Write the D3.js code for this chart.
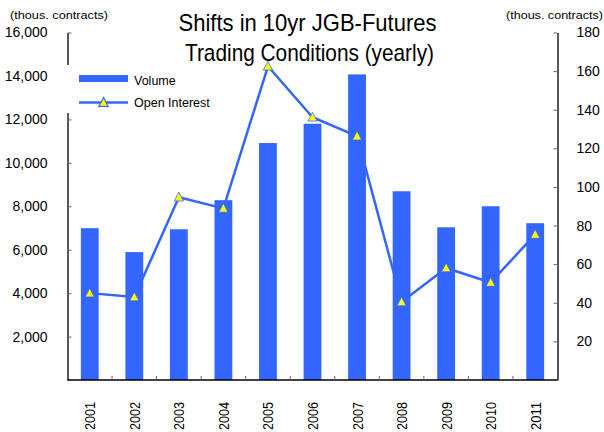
<!DOCTYPE html>
<html>
<head>
<meta charset="utf-8">
<script src="https://cdn.jsdelivr.net/npm/d3@7"></script>
<style>
  html, body { margin: 0; padding: 0; background: #fff; }
  svg { display: block; font-family: "Liberation Sans", Arial, sans-serif; }
</style>
</head>
<body>
<svg id="chart" width="604" height="432"></svg>
<script>
const years = ["2001","2002","2003","2004","2005","2006","2007","2008","2009","2010","2011"];
const volume = [6990, 5890, 6940, 8280, 10910, 11800, 14070, 8690, 7030, 8000, 7220];
const openInterest = [45.0, 43.0, 94.7, 88.9, 162.5, 136.1, 126.3, 40.4, 58.0, 50.5, 75.4];
const leftTicks = [2000, 4000, 6000, 8000, 10000, 12000, 14000, 16000];
const rightTicks = [20, 40, 60, 80, 100, 120, 140, 160, 180];
const titleLines = ["Shifts in 10yr JGB-Futures", "Trading Conditions (yearly)"];
const unitLabel = "(thous. contracts)";
const legendLabels = ["Volume", "Open Interest"];

const BLUE = "#3366FF";
const YELLOW = "#FFFF00";

const svg = d3.select("#chart");
const L = 67.5, R = 557.5, T = 32.5, B = 380;

const x = d3.scaleBand().domain(years).range([L, R]).paddingInner(0.6).paddingOuter(0.3);
const yL = d3.scaleLinear().domain([0, 16000]).range([B, T]);
const yR = d3.scaleLinear().domain([0, 180]).range([B, T]);

// bars
svg.append("g").selectAll("rect").data(years).join("rect")
  .attr("x", d => x(d))
  .attr("width", x.bandwidth())
  .attr("y", (d, i) => yL(volume[i]))
  .attr("height", (d, i) => B - yL(volume[i]))
  .attr("fill", BLUE);

// line
const line = d3.line().x((d, i) => x(years[i]) + x.bandwidth() / 2).y(d => yR(d));
svg.append("path").datum(openInterest)
  .attr("d", line).attr("fill", "none")
  .attr("stroke", BLUE).attr("stroke-width", 2.5).attr("stroke-linejoin", "round");

const tri = "M0,-5L4.6,3.8L-4.6,3.8Z";
svg.append("g").selectAll("path").data(openInterest).join("path")
  .attr("d", tri)
  .attr("transform", (d, i) => `translate(${x(years[i]) + x.bandwidth() / 2},${yR(d)})`)
  .attr("fill", YELLOW).attr("stroke", BLUE).attr("stroke-width", 0.8);

// left axis
const gL = svg.append("g").attr("transform", `translate(${L},0)`)
  .call(d3.axisLeft(yL).tickValues(leftTicks).tickSizeInner(-4).tickSizeOuter(0).tickPadding(20)
    .tickFormat(d3.format(",")));
gL.select(".domain").attr("stroke", "#000").attr("stroke-width", 1.3);
gL.selectAll(".tick line").attr("stroke", "#666");
gL.selectAll(".tick text").attr("font-size", 14).attr("fill", "#000")
  .attr("font-family", "Liberation Sans, Arial, sans-serif");

// right axis
const gR = svg.append("g").attr("transform", `translate(${R},0)`)
  .call(d3.axisRight(yR).tickValues(rightTicks).tickSizeInner(-4).tickSizeOuter(0).tickPadding(19));
gR.select(".domain").attr("stroke", "#000").attr("stroke-width", 1.3);
gR.selectAll(".tick line").attr("stroke", "#666");
gR.selectAll(".tick text").attr("font-size", 14).attr("fill", "#000")
  .attr("font-family", "Liberation Sans, Arial, sans-serif");

// bottom axis line + category separators
svg.append("line").attr("x1", L).attr("x2", R).attr("y1", B).attr("y2", B)
  .attr("stroke", "#000").attr("stroke-width", 1.3);
svg.append("g").selectAll("line").data(years.slice(0, -1)).join("line")
  .attr("x1", d => x(d) + x.bandwidth() + (x.step() - x.bandwidth()) / 2)
  .attr("x2", d => x(d) + x.bandwidth() + (x.step() - x.bandwidth()) / 2)
  .attr("y1", B).attr("y2", B - 4)
  .attr("stroke", "#666");

// year labels
svg.append("g").selectAll("text").data(years).join("text")
  .attr("transform", d => `translate(${x(d) + x.bandwidth() / 2 + 5.5},402) rotate(-90)`)
  .attr("text-anchor", "end")
  .attr("font-size", 15)
  .attr("textLength", 28).attr("lengthAdjust", "spacingAndGlyphs")
  .attr("fill", "#000")
  .text(d => d);

// legend (white background covering axis)
const lg = svg.append("g");
lg.append("rect").attr("x", 60).attr("y", 65).attr("width", 160).attr("height", 48).attr("fill", "#fff");
lg.append("rect").attr("x", 79).attr("y", 75).attr("width", 49).attr("height", 7).attr("fill", BLUE);
lg.append("text").attr("x", 134).attr("y", 85).attr("font-size", 12.5).attr("fill", "#000").text(legendLabels[0]);
lg.append("line").attr("x1", 79).attr("x2", 128).attr("y1", 102.5).attr("y2", 102.5)
  .attr("stroke", BLUE).attr("stroke-width", 2.5);
lg.append("path").attr("d", tri).attr("transform", "translate(103.5,102.5)")
  .attr("fill", YELLOW).attr("stroke", BLUE).attr("stroke-width", 1.2);
lg.append("text").attr("x", 134).attr("y", 107).attr("font-size", 12.5).attr("fill", "#000").text(legendLabels[1]);

// title
svg.append("text").attr("x", 307.5).attr("y", 30.5).attr("text-anchor", "middle")
  .attr("font-size", 24).attr("textLength", 258).attr("lengthAdjust", "spacingAndGlyphs")
  .attr("fill", "#000").text(titleLines[0]);
svg.append("text").attr("x", 309.5).attr("y", 60.5).attr("text-anchor", "middle")
  .attr("font-size", 24).attr("textLength", 249).attr("lengthAdjust", "spacingAndGlyphs")
  .attr("fill", "#000").text(titleLines[1]);

// unit labels
svg.append("text").attr("x", 10).attr("y", 19).attr("font-size", 11)
  .attr("textLength", 98).attr("lengthAdjust", "spacingAndGlyphs").attr("fill", "#000").text(unitLabel);
svg.append("text").attr("x", 506).attr("y", 19).attr("font-size", 11)
  .attr("textLength", 97).attr("lengthAdjust", "spacingAndGlyphs").attr("fill", "#000").text(unitLabel);
</script>
</body>
</html>
